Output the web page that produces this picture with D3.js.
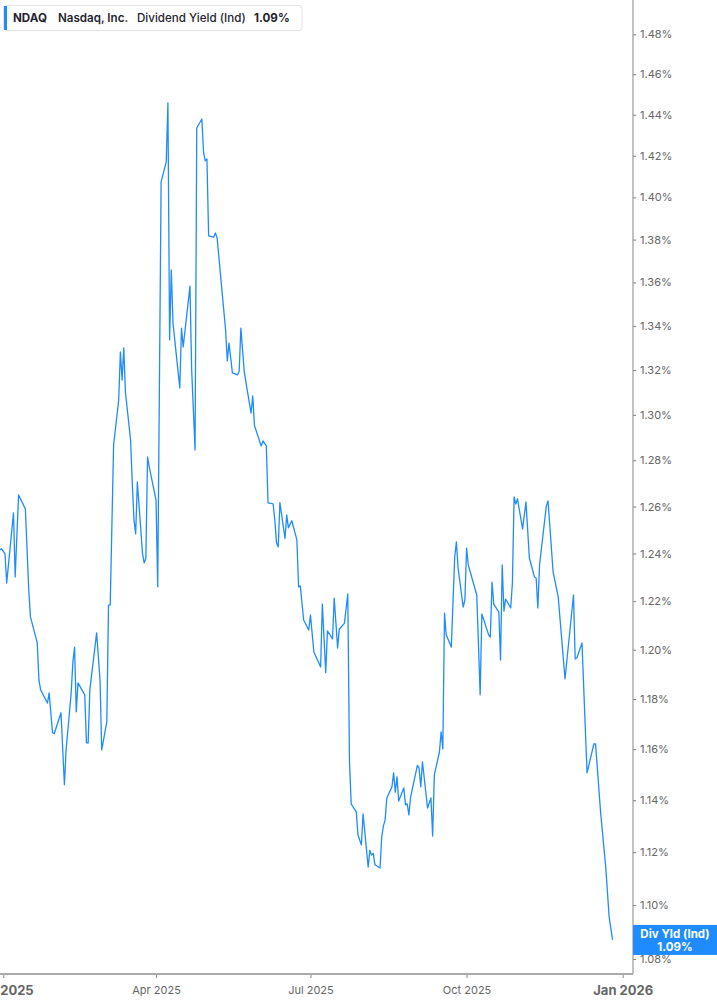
<!DOCTYPE html>
<html>
<head>
<meta charset="utf-8">
<script src="https://cdn.jsdelivr.net/npm/d3@7"></script>
<style>
  html, body { margin: 0; padding: 0; background: #fff; }
  svg { display: block; font-family: Inter, "Noto Sans", sans-serif; }
</style>
</head>
<body>
<svg id="chart" width="717" height="1005"></svg>
<script>
// ── Data ────────────────────────────────────────────────────────────────────

const ticker = 'NDAQ';
const company = 'Nasdaq, Inc.';
const metric = 'Dividend Yield (Ind)';
const lastLabel = '1.09%';

const dates = [
  '2024-12-30','2024-12-31','2025-01-02','2025-01-03','2025-01-07','2025-01-08','2025-01-10','2025-01-14',
  '2025-01-16','2025-01-17','2025-01-21','2025-01-22','2025-01-23','2025-01-27','2025-01-28','2025-01-30',
  '2025-01-31','2025-02-04','2025-02-06','2025-02-07','2025-02-10','2025-02-11','2025-02-12','2025-02-13',
  '2025-02-14','2025-02-18','2025-02-19','2025-02-20','2025-02-21','2025-02-25','2025-02-27','2025-02-28',
  '2025-03-03','2025-03-04','2025-03-05','2025-03-07','2025-03-10','2025-03-11','2025-03-12','2025-03-13',
  '2025-03-14','2025-03-17','2025-03-18','2025-03-19','2025-03-20','2025-03-21','2025-03-24','2025-03-25',
  '2025-03-26','2025-03-27','2025-03-28','2025-04-01','2025-04-02','2025-04-04','2025-04-07','2025-04-08',
  '2025-04-09','2025-04-10','2025-04-11','2025-04-15','2025-04-16','2025-04-17','2025-04-21','2025-04-22',
  '2025-04-24','2025-04-25','2025-04-28','2025-04-29','2025-04-30','2025-05-01','2025-05-02','2025-05-05',
  '2025-05-06','2025-05-07','2025-05-09','2025-05-12','2025-05-13','2025-05-14','2025-05-16','2025-05-19',
  '2025-05-20','2025-05-21','2025-05-23','2025-05-27','2025-05-28','2025-05-29','2025-06-02','2025-06-03',
  '2025-06-05','2025-06-06','2025-06-09','2025-06-10','2025-06-11','2025-06-12','2025-06-13','2025-06-16',
  '2025-06-17','2025-06-18','2025-06-20','2025-06-23','2025-06-24','2025-06-25','2025-06-27','2025-06-30',
  '2025-07-01','2025-07-03','2025-07-07','2025-07-08','2025-07-10','2025-07-11','2025-07-14','2025-07-15',
  '2025-07-17','2025-07-18','2025-07-21','2025-07-23','2025-07-24','2025-07-25','2025-07-28','2025-07-29',
  '2025-07-31','2025-08-01','2025-08-04','2025-08-05','2025-08-06','2025-08-07','2025-08-08','2025-08-11',
  '2025-08-12','2025-08-13','2025-08-14','2025-08-15','2025-08-18','2025-08-19','2025-08-20','2025-08-21',
  '2025-08-22','2025-08-25','2025-08-26','2025-08-27','2025-08-28','2025-08-29','2025-09-02','2025-09-03',
  '2025-09-04','2025-09-05','2025-09-08','2025-09-10','2025-09-11','2025-09-12','2025-09-15','2025-09-16',
  '2025-09-17','2025-09-18','2025-09-19','2025-09-22','2025-09-24','2025-09-25','2025-09-26','2025-09-29',
  '2025-09-30','2025-10-01','2025-10-02','2025-10-07','2025-10-09','2025-10-10','2025-10-14','2025-10-15',
  '2025-10-16','2025-10-17','2025-10-20','2025-10-21','2025-10-22','2025-10-23','2025-10-24','2025-10-27',
  '2025-10-28','2025-10-29','2025-10-30','2025-10-31','2025-11-03','2025-11-05','2025-11-07','2025-11-10',
  '2025-11-11','2025-11-12','2025-11-13','2025-11-17','2025-11-18','2025-11-21','2025-11-24','2025-11-28',
  '2025-12-03','2025-12-04','2025-12-05','2025-12-08','2025-12-11','2025-12-15','2025-12-16','2025-12-19',
  '2025-12-22','2025-12-24','2025-12-26'
];

const yields = [
  1.2415,1.2420,1.2398,1.2276,1.2573,1.2301,1.2650,1.2590,
  1.2247,1.2135,1.2028,1.1877,1.1837,1.1784,1.1825,1.1665,
  1.1661,1.1745,1.1460,1.1597,1.1825,1.1950,1.2011,1.1749,
  1.1865,1.1817,1.1625,1.1625,1.1837,1.2069,1.1877,1.1597,
  1.1709,1.2184,1.2184,1.2867,1.3066,1.3282,1.3155,1.3300,
  1.3098,1.2889,1.2702,1.2543,1.2483,1.2706,1.2402,1.2360,
  1.2380,1.2815,1.2771,1.2628,1.2260,1.4074,1.4170,1.4458,
  1.3336,1.3658,1.3413,1.3120,1.3390,1.3304,1.3583,1.3200,
  1.2845,1.4335,1.4379,1.4218,1.4175,1.4184,1.3817,1.3812,
  1.3831,1.3808,1.3635,1.3381,1.3241,1.3322,1.3187,1.3178,
  1.3196,1.3390,1.3191,1.3008,1.3084,1.2953,1.2863,1.2885,
  1.2863,1.2616,1.2611,1.2543,1.2445,1.2428,1.2617,1.2464,
  1.2564,1.2509,1.2539,1.2458,1.2260,1.2264,1.2122,1.2081,
  1.2143,1.1991,1.1930,1.2188,1.1906,1.2077,1.2044,1.2213,
  1.2007,1.2085,1.2108,1.2230,1.1550,1.1386,1.1355,1.1266,
  1.1228,1.1347,1.1144,1.1207,1.1189,1.1195,1.1152,1.1140,
  1.1259,1.1301,1.1324,1.1409,1.1452,1.1507,1.1431,1.1491,
  1.1397,1.1448,1.1382,1.1386,1.1343,1.1411,1.1536,1.1526,
  1.1452,1.1550,1.1370,1.1409,1.1262,1.1499,1.1589,1.1669,
  1.1601,1.2151,1.2061,1.2011,1.2385,1.2449,1.2339,1.2176,
  1.2205,1.2423,1.2352,1.2226,1.1817,1.2147,1.2061,1.2052,
  1.2280,1.2188,1.2155,1.1958,1.2352,1.2159,1.2209,1.2172,
  1.2276,1.2641,1.2611,1.2633,1.2504,1.2620,1.2381,1.2301,
  1.2297,1.2172,1.2352,1.2603,1.2624,1.2322,1.2218,1.1881,
  1.2226,1.1962,1.1966,1.2028,1.1507,1.1621,1.1621,1.1351,
  1.1144,1.0956,1.0870
];

const yTicks = [1.08,1.10,1.12,1.14,1.16,1.18,1.20,1.22,1.24,1.26,1.28,1.30,1.32,1.34,1.36,1.38,1.40,1.42,1.44,1.46,1.48];
const xTicks = ['2025-01-01','2025-04-01','2025-07-01','2025-10-01','2026-01-01'];

// ── Layout ───────────────────────────────────────────────────────────────────

const W = 717, H = 1005;
const plotRight = 633, plotBottom = 974;
const lineColor = '#1e8cff';

const parse = d3.utcParse('%Y-%m-%d');
const series = dates.map((d, i) => ({ date: parse(d), v: yields[i] }));

const x = d3.scaleUtc()
  .domain([parse('2025-01-01'), parse('2026-01-01')])
  .range([3.3, 622.7]);

const y = d3.scaleLog()
  .domain([1.08, 1.48])
  .range([958.9, 34.3]);

const svg = d3.select('#chart');

svg.append('defs').append('clipPath').attr('id', 'plotClip')
  .append('rect').attr('x', 0).attr('y', 0).attr('width', plotRight).attr('height', plotBottom);

// ── Line ─────────────────────────────────────────────────────────────────────

svg.append('path')
  .datum(series)
  .attr('clip-path', 'url(#plotClip)')
  .attr('fill', 'none')
  .attr('stroke', lineColor)
  .attr('stroke-width', 1.3)
  .attr('stroke-linejoin', 'round')
  .attr('d', d3.line().x(d => x(d.date)).y(d => y(d.v)));

// ── Axes ─────────────────────────────────────────────────────────────────────

const yAxis = d3.axisRight(y)
  .tickValues(yTicks)
  .tickFormat(d => d.toFixed(2) + '%')
  .tickSize(3)
  .tickPadding(4);

const gy = svg.append('g')
  .attr('transform', `translate(${plotRight},0)`)
  .call(yAxis);
gy.select('.domain').remove();
gy.selectAll('.tick line').attr('stroke', '#777');
gy.selectAll('.tick text')
  .attr('fill', '#666')
  .attr('font-size', 11)
  .attr('font-family', 'Inter, sans-serif');

svg.append('line')
  .attr('x1', plotRight).attr('x2', plotRight)
  .attr('y1', 0).attr('y2', plotBottom)
  .attr('stroke', '#999').attr('stroke-width', 1.2);

const xAxis = d3.axisBottom(x)
  .tickValues(xTicks.map(parse))
  .tickFormat(d3.utcFormat('%b %Y'))
  .tickSize(4)
  .tickPadding(8);

const gx = svg.append('g')
  .attr('transform', `translate(0,${plotBottom})`)
  .call(xAxis);
gx.select('.domain').remove();
gx.selectAll('.tick line').attr('stroke', '#888');
gx.selectAll('.tick text')
  .attr('fill', '#666')
  .attr('font-family', 'Inter, sans-serif')
  .attr('font-size', d => d.getUTCMonth() === 0 ? 13 : 11)
  .attr('font-weight', d => d.getUTCMonth() === 0 ? 700 : 400);

svg.append('line')
  .attr('x1', 0).attr('x2', plotRight)
  .attr('y1', plotBottom).attr('y2', plotBottom)
  .attr('stroke', '#aaa').attr('stroke-width', 2);

// ── Last value badge ────────────────────────────────────────────────────────

const last = series[series.length - 1];
const badgeY = y(last.v);
const badge = svg.append('g').attr('transform', `translate(${plotRight},${badgeY})`);
badge.append('rect')
  .attr('x', 0).attr('y', -15).attr('width', W - plotRight).attr('height', 30)
  .attr('fill', lineColor);
badge.append('text')
  .attr('x', (W - plotRight) / 2).attr('y', -2)
  .attr('text-anchor', 'middle')
  .attr('fill', '#fff').attr('font-size', 11.5).attr('font-weight', 700)
  .text('Div Yld (Ind)');
badge.append('text')
  .attr('x', (W - plotRight) / 2).attr('y', 11)
  .attr('text-anchor', 'middle')
  .attr('fill', '#fff').attr('font-size', 11.5).attr('font-weight', 700)
  .text(lastLabel);

// ── Legend ──────────────────────────────────────────────────────────────────

const legend = svg.append('g').attr('transform', 'translate(3,5)');
legend.append('rect')
  .attr('x', 0.5).attr('y', 0.5).attr('width', 298.5).attr('height', 25).attr('rx', 3)
  .attr('fill', '#fff').attr('stroke', '#e4e4e4');
legend.append('rect')
  .attr('x', 1).attr('y', 1).attr('width', 3).attr('height', 24)
  .attr('fill', lineColor);

const legendItems = [
  { text: ticker, x: 10, weight: 700 },
  { text: company, x: 55, weight: 600 },
  { text: metric, x: 134, weight: 500 },
  { text: lastLabel, x: 251, weight: 700 },
];
legend.selectAll('text.item').data(legendItems).join('text')
  .attr('class', 'item')
  .attr('x', d => d.x).attr('y', 17)
  .attr('fill', '#1f2430')
  .attr('font-size', 11.6)
  .attr('font-weight', d => d.weight)
  .text(d => d.text);
</script>
</body>
</html>
